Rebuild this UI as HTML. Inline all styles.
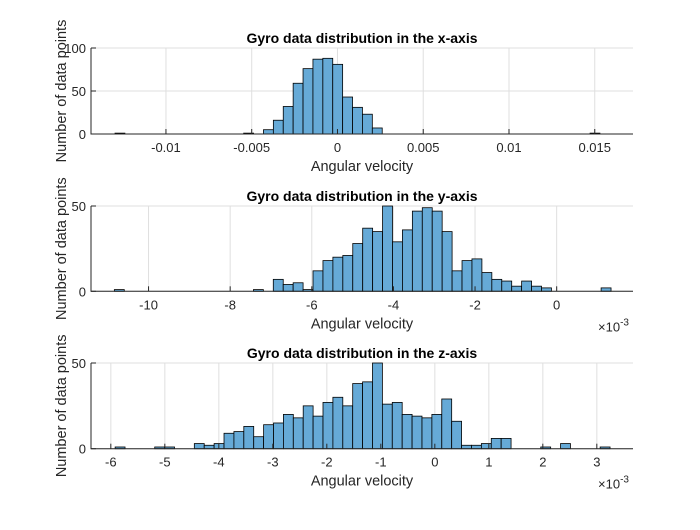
<!DOCTYPE html>
<html><head><meta charset="utf-8"><style>
body{margin:0;background:#fff}
svg{font-family:"Liberation Sans",Arial,sans-serif}
</style></head><body>
<svg id="fig" width="700" height="525" viewBox="0 0 700 525" xmlns="http://www.w3.org/2000/svg"></svg>
<script>
// Subplot 1 (x-axis) data
const xBinStart = -12.97e-3;
const xBinWidth = 0.577e-3;
const xCounts = [1,0,0,0,0,0,0,0,0,0,0,0,0,1,0,5,16,32,59,76,87,88,81,43,31,23,7,0,0,0,0,0,0,0,0,0,0,0,0,0,0,0,0,0,0,0,0,0,1];
const xTicks = [-0.01,-0.005,0,0.005,0.01,0.015];
const xTickLabels = ["-0.01","-0.005","0","0.005","0.01","0.015"];
const xYTicks = [0,50,100];
// Subplot 2 (y-axis) data
const yBinStart = -10.838e-3;
const yBinWidth = 0.2434e-3;
const yCounts = [1,0,0,0,0,0,0,0,0,0,0,0,0,0,1,0,7,4,5,1,12,18,20,21,28,37,35,50,29,36,47,49,47,35,12,18,19,11,7,6,3,6,3,2,0,0,0,0,0,2];
const yTicks = [-10e-3,-8e-3,-6e-3,-4e-3,-2e-3,0];
const yTickLabels = ["-10","-8","-6","-4","-2","0"];
const yYTicks = [0,50];
// Subplot 3 (z-axis) data
const zBinStart = -5.92e-3;
const zBinWidth = 0.1833e-3;
const zCounts = [1,0,0,0,1,1,0,0,3,2,3,9,10,13,7,14,15,20,18,25,19,27,30,25,38,39,50,26,27,20,19,18,20,29,16,2,2,3,6,6,0,0,0,1,0,3,0,0,0,1];
const zTicks = [-6e-3,-5e-3,-4e-3,-3e-3,-2e-3,-1e-3,0,1e-3,2e-3,3e-3];
const zTickLabels = ["-6","-5","-4","-3","-2","-1","0","1","2","3"];
const zYTicks = [0,50];

const NS="http://www.w3.org/2000/svg";
const svg=document.getElementById('fig');
function mk(tag,attrs,parent){const e=document.createElementNS(NS,tag);for(const k in attrs)e.setAttribute(k,attrs[k]);(parent||svg).appendChild(e);return e;}

function drawPanel(p){
  const L=91,R=633,T=p.top,B=p.bottom;
  const g=mk('g',{});
  
  
  const sx=v=>L+(v-p.xmin)/(p.xmax-p.xmin)*(R-L);
  const sy=v=>B-(v-0)/(p.ymax)*(B-T);
  p.ticks.forEach(t=>{const l=mk('line',{x1:sx(t),x2:sx(t),y1:T,y2:B,stroke:'#dfdfdf','stroke-width':1},g);
    });
  p.yticks.forEach(t=>{const l=mk('line',{x1:L,x2:R,y1:sy(t),y2:sy(t),stroke:'#dfdfdf','stroke-width':1},g);
    });
  p.counts.forEach((c,i)=>{
    if(c<=0)return;
    const x0=sx(p.start+i*p.width),x1=sx(p.start+(i+1)*p.width);
    const r=mk('rect',{x:x0,y:sy(c),width:x1-x0,height:sy(0)-sy(c),fill:'#66aad7',stroke:'#000','stroke-width':0.8},g);
    
    
  });
  const ax=mk('path',{d:`M${L},${T}V${B}H${R}`,fill:'none',stroke:'#262626','stroke-width':1},g);
  
  p.ticks.forEach((t,i)=>{
    mk('line',{x1:sx(t),x2:sx(t),y1:B,y2:B-5,stroke:'#262626'},g);
    const tx=mk('text',{x:sx(t),y:B+18,'font-size':13,'text-anchor':'middle',fill:'#262626'},g);
    tx.textContent=p.labels[i];
    
  });
  p.yticks.forEach(t=>{
    mk('line',{x1:L,x2:L+5,y1:sy(t),y2:sy(t),stroke:'#262626'},g);
    const tx=mk('text',{x:L-5,y:sy(t)+5,'font-size':13,'text-anchor':'end',fill:'#262626'},g);
    tx.textContent=t;
    
  });
  const ti=mk('text',{x:(L+R)/2,y:T-5,'font-size':14,'font-weight':'bold','text-anchor':'middle',fill:'#000'},g);
  ti.textContent=p.title;
  const xl=mk('text',{x:(L+R)/2,y:B+37,'font-size':14.5,'text-anchor':'middle',fill:'#262626'},g);
  xl.textContent='Angular velocity';
  const yl=mk('text',{x:0,y:0,'font-size':14.5,'text-anchor':'middle',fill:'#262626',transform:`translate(66,${(T+B)/2}) rotate(-90)`},g);
  yl.textContent='Number of data points';
  if(p.exp){
    const ex=mk('text',{x:R-35,y:B+40,'font-size':13,fill:'#262626'},g);
    ex.textContent='×10';
    
    const sp=mk('tspan',{'font-size':10,dy:-6},ex);sp.textContent='-3';
  }
}
drawPanel({name:'x-axis-histogram',top:48,bottom:134,xmin:-14.37e-3,xmax:17.23e-3,ymax:100,start:xBinStart,width:xBinWidth,counts:xCounts,ticks:xTicks,labels:xTickLabels,yticks:xYTicks,title:'Gyro data distribution in the x-axis',exp:false});
drawPanel({name:'y-axis-histogram',top:206,bottom:291.3,xmin:-11.41e-3,xmax:1.87e-3,ymax:50,start:yBinStart,width:yBinWidth,counts:yCounts,ticks:yTicks,labels:yTickLabels,yticks:yYTicks,title:'Gyro data distribution in the y-axis',exp:true});
drawPanel({name:'z-axis-histogram',top:363,bottom:448.7,xmin:-6.367e-3,xmax:3.67e-3,ymax:50,start:zBinStart,width:zBinWidth,counts:zCounts,ticks:zTicks,labels:zTickLabels,yticks:zYTicks,title:'Gyro data distribution in the z-axis',exp:true});
</script>
</body></html>
